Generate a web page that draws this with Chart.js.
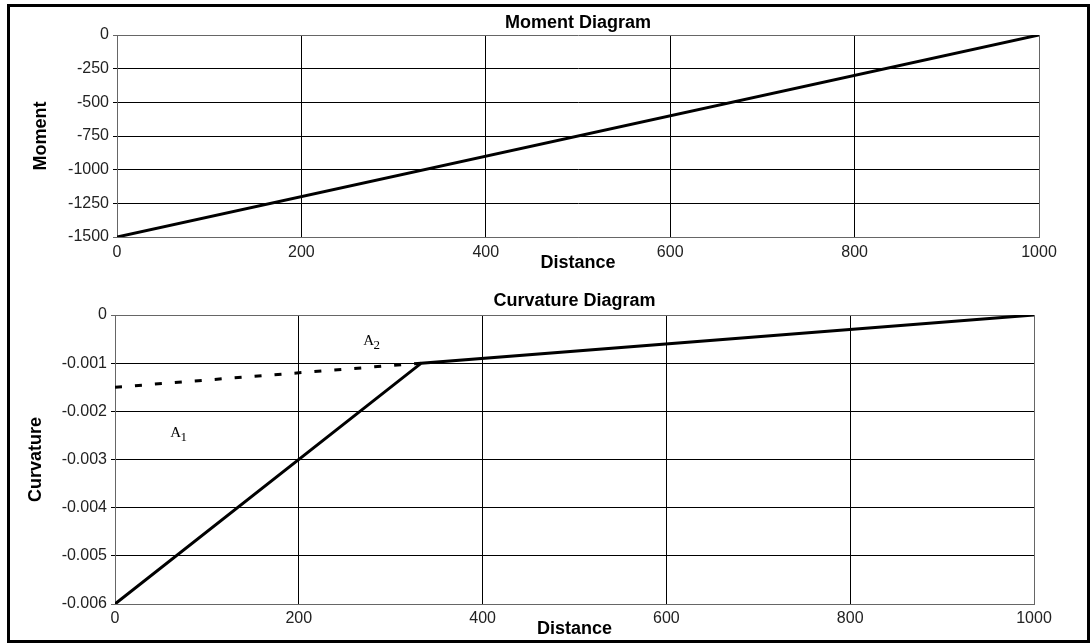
<!DOCTYPE html>
<html>
<head>
<meta charset="utf-8">
<script src="https://cdn.jsdelivr.net/npm/chart.js@4.4.1/dist/chart.umd.min.js"></script>
<style>
  body { margin: 0; background: #fff; }
  #page { position: relative; width: 1091px; height: 644px; overflow: hidden; }
  #frame { position: absolute; left: 7px; top: 4px; width: 1083px; height: 639px; box-sizing: border-box; border: 3px solid #000; pointer-events: none; }
  .box { position: absolute; left: 0; width: 1091px; }
  #momentBox { top: 0; height: 280px; }
  #curvatureBox { top: 280px; height: 364px; }
</style>
</head>
<body>
<div id="page">
  <div class="box" id="momentBox"><canvas id="momentChart"></canvas></div>
  <div class="box" id="curvatureBox"><canvas id="curvatureChart"></canvas></div>
  <div id="frame"></div>
</div>
<script>
// distance axis (shared)
const distanceTicks = [0, 200, 400, 600, 800, 1000];

// moment diagram
const momentX = [0, 1000];
const momentY = [-1500, 0];
const momentTicks = [-1500, -1250, -1000, -750, -500, -250, 0];
const momentTickLabels = ['-1500', '-1250', '-1000', '-750', '-500', '-250', '0'];

// curvature diagram: actual curvature (solid) and elastic M/EI (dashed)
const curvatureX = [0, 333.3, 1000];
const curvatureY = [-0.006, -0.001, 0];
const elasticX = [0, 333.3];
const elasticY = [-0.0015, -0.001];
const curvatureTicks = [-0.006, -0.005, -0.004, -0.003, -0.002, -0.001, 0];
const curvatureTickLabels = ['-0.006', '-0.005', '-0.004', '-0.003', '-0.002', '-0.001', '0'];

// area labels A1 / A2 (anchored in data units)
const areaNames = ['A', 'A'];
const areaSubs = ['1', '2'];
const areaX = [60, 270];
const areaY = [-0.00253, -0.00062];

const sansFont = "Arial, 'Liberation Sans', sans-serif";
const serifFont = "'Liberation Serif', 'Times New Roman', serif";

function toPoints(xs, ys) {
  return xs.map((x, i) => ({ x: x, y: ys[i] }));
}

function labelFor(value, ticks, labels) {
  const i = ticks.findIndex(t => Math.abs(t - value) < 1e-9);
  return i >= 0 ? labels[i] : '';
}

// edges of the plot grey, inner grid black
function gridColor(min, max) {
  return function(ctx) {
    if (ctx.tick && (Math.abs(ctx.tick.value - min) < 1e-9 || Math.abs(ctx.tick.value - max) < 1e-9)) {
      return '#666';
    }
    return '#000';
  };
}

function buildOptions(o) {
  return {
    responsive: true,
    maintainAspectRatio: false,
    animation: false,
    layout: { padding: { left: 0, right: o.padRight, top: 0, bottom: 0 } },
    plugins: {
      legend: { display: false },
      tooltip: { enabled: false },
      title: {
        display: true,
        text: o.title,
        fullSize: false,
        color: '#000',
        font: { family: sansFont, size: 18, weight: 'bold' },
        padding: { top: o.titleTop, bottom: o.titleBottom }
      }
    },
    scales: {
      x: {
        type: 'linear',
        min: 0,
        max: 1000,
        afterBuildTicks: s => { s.ticks = distanceTicks.map(v => ({ value: v })); },
        afterFit: s => { s.height = o.xHeight; },
        ticks: {
          color: '#222',
          font: { family: sansFont, size: 16 },
          padding: o.xTickPad,
          maxRotation: 0,
          callback: v => String(v)
        },
        grid: { color: gridColor(0, 1000), drawTicks: false },
        border: { color: '#666' },
        title: {
          display: true,
          text: 'Distance',
          color: '#000',
          font: { family: sansFont, size: 18, weight: 'bold' },
          padding: { top: 0, bottom: o.xTitlePad }
        }
      },
      y: {
        type: 'linear',
        min: o.yTicks[0],
        max: o.yTicks[o.yTicks.length - 1],
        afterBuildTicks: s => { s.ticks = o.yTicks.map(v => ({ value: v })); },
        afterFit: s => { s.width = o.yWidth; },
        ticks: {
          color: '#222',
          font: { family: sansFont, size: 16 },
          padding: 4,
          callback: v => labelFor(v, o.yTicks, o.yLabels)
        },
        grid: { color: gridColor(o.yTicks[0], o.yTicks[o.yTicks.length - 1]), drawTicks: true, tickLength: 4 },
        border: { color: '#666' },
        title: {
          display: true,
          text: o.yTitle,
          color: '#000',
          font: { family: sansFont, size: 18, weight: 'bold' },
          padding: { top: o.yTitlePad, bottom: 0 }
        }
      }
    }
  };
}

const lineStyle = {
  borderColor: '#000',
  borderWidth: 3,
  pointRadius: 0,
  fill: false,
  tension: 0
};

const areaLabelPlugin = {
  id: 'areaLabels',
  afterDatasetsDraw(chart) {
    const { ctx, scales } = chart;
    ctx.save();
    ctx.fillStyle = '#000';
    ctx.textBaseline = 'alphabetic';
    ctx.textAlign = 'left';
    areaNames.forEach((name, i) => {
      const px = scales.x.getPixelForValue(areaX[i]);
      const py = scales.y.getPixelForValue(areaY[i]);
      ctx.font = '15px ' + serifFont;
      ctx.fillText(name, px, py);
      const w = ctx.measureText(name).width;
      ctx.font = '13px ' + serifFont;
      ctx.fillText(areaSubs[i], px + w - 0.5, py + 4);
    });
    ctx.restore();
  }
};

new Chart(document.getElementById('momentChart'), {
  type: 'line',
  data: {
    datasets: [
      Object.assign({ label: 'Moment', data: toPoints(momentX, momentY) }, lineStyle)
    ]
  },
  options: buildOptions({
    title: 'Moment Diagram',
    titleTop: 12,
    titleBottom: 1.4,
    padRight: 52,
    yWidth: 117,
    xHeight: 43,
    xTickPad: 6,
    xTitlePad: 6,
    yTitle: 'Moment',
    yTitlePad: 30,
    yTicks: momentTicks,
    yLabels: momentTickLabels
  })
});

new Chart(document.getElementById('curvatureChart'), {
  type: 'line',
  data: {
    datasets: [
      Object.assign({ label: 'Curvature', data: toPoints(curvatureX, curvatureY), borderJoinStyle: 'miter' }, lineStyle),
      Object.assign({ label: 'Elastic', data: toPoints(elasticX, elasticY), borderDash: [7, 13] }, lineStyle)
    ]
  },
  options: buildOptions({
    title: 'Curvature Diagram',
    titleTop: 10,
    titleBottom: 3.4,
    padRight: 57,
    yWidth: 115,
    xHeight: 40,
    xTickPad: 5,
    xTitlePad: 4,
    yTitle: 'Curvature',
    yTitlePad: 25,
    yTicks: curvatureTicks,
    yLabels: curvatureTickLabels
  }),
  plugins: [areaLabelPlugin]
});
</script>
</body>
</html>
